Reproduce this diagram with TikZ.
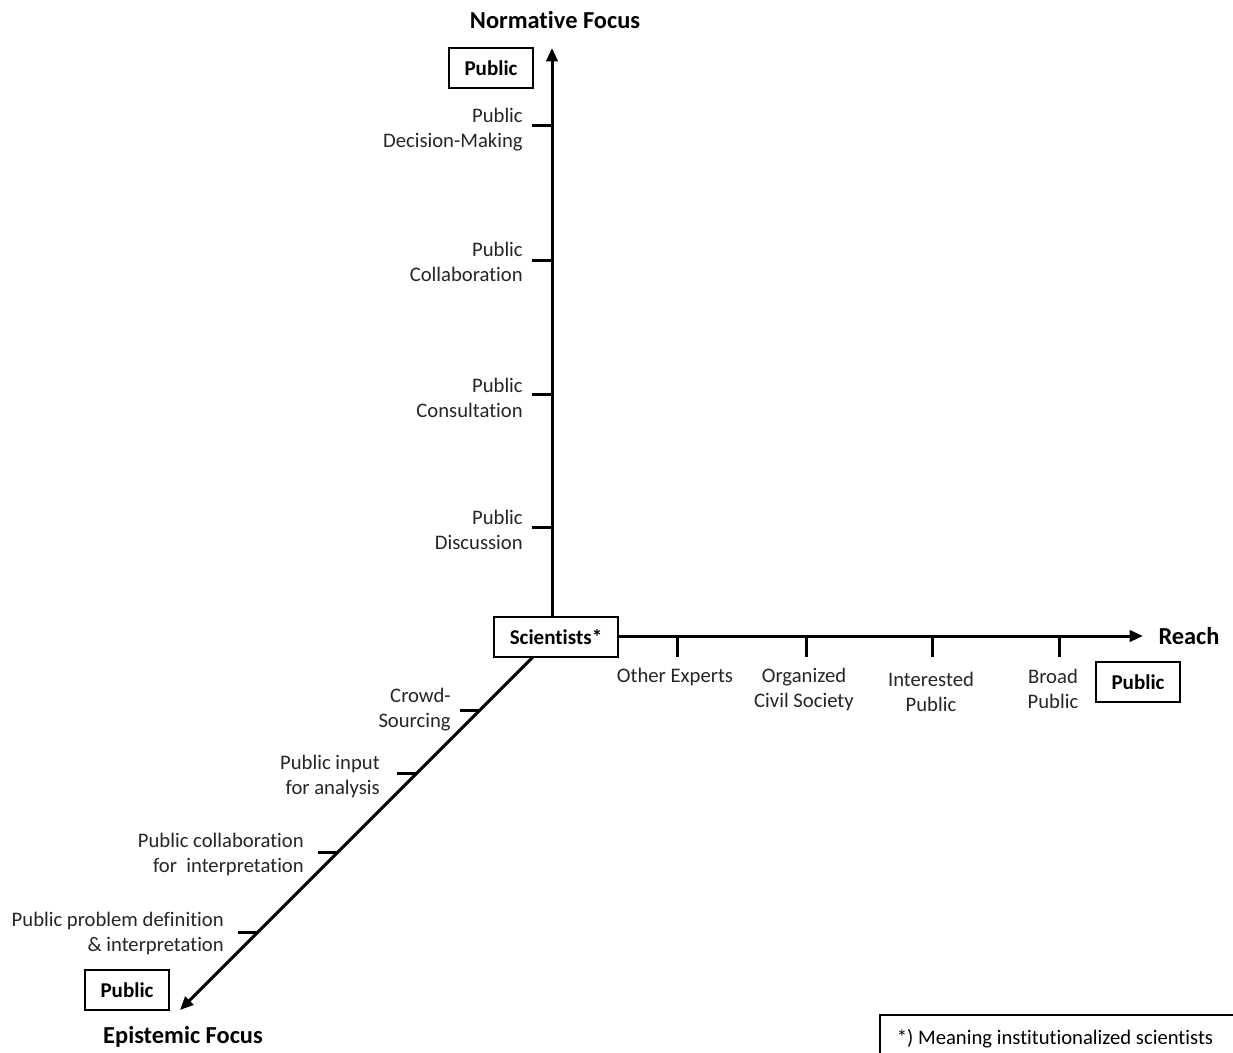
\documentclass[tikz,border=0pt]{standalone}
\usepackage{fontspec}
\setmainfont{Carlito}[RawFeature={-liga;-clig;-calt;-dlig}]
\usetikzlibrary{arrows.meta}
\begin{document}
\begin{tikzpicture}[x=0.75pt,y=-0.75pt,
  axis/.style={line width=2.25pt},
  axisarrow/.style={line width=2.25pt,-{Triangle[length=10pt,width=8.5pt]}},
  tick/.style={line width=2.25pt},
  lbl/.style={inner sep=0pt,text=black!85,font=\fontsize{15.5}{18.75}\selectfont},
  rlbl/.style={lbl,align=right,anchor=east},
  clbl/.style={lbl,align=center},
  title/.style={inner sep=0pt,font=\fontsize{18.3}{22}\selectfont\bfseries},
  pbox/.style={draw,line width=1.3pt,minimum width=63pt,minimum height=30pt,inner sep=0pt,font=\fontsize{15.8}{19}\selectfont\bfseries}
]
\useasboundingbox (0,0) rectangle (1233,1053);
\fill[white] (0,0) rectangle (1233,1053);

% boxes
\node[pbox] (sci) at (556,637) [minimum width=93pt] {Scientists*};
\node[pbox] (ptop) at (491,68) {Public};
\node[pbox] (pright) at (1138,682) {Public};
\node[pbox] (pleft) at (127,990) {Public};

% titles
\node[title] (nf) at (555,20) {Normative Focus};
\node[title] (reach) at (1189,636) {Reach};
\node[title] (ef) at (183,1037) {Epistemic Focus};

% axis coordinates
\coordinate (vtop) at (552,48);
\coordinate (hend) at (1143,636);
\coordinate (dstart) at (533,657);
\coordinate (dend) at (180,1010);

\draw[axisarrow] (vtop |- sci.north) -- (vtop);
\draw[axisarrow] (sci.east |- hend) -- (hend);
\draw[axisarrow] (dstart) -- (dend);

% vertical ticks
\foreach \y/\name in {125/v1,260/v2,394/v3,527/v4}{
  \coordinate (\name) at (552,\y);
  \draw[tick] (\name) -- ++(-20,0);
}
\node[rlbl] (l1) at (523,130) {Public\\Decision-Making};
\node[rlbl] (l2) at (523,262) {Public\\Collaboration};
\node[rlbl] (l3) at (523,398) {Public\\Consultation};
\node[rlbl] (l4) at (523,530) {Public\\Discussion};

% horizontal ticks
\foreach \x/\name in {677/h1,806/h2,932/h3,1059/h4}{
  \coordinate (\name) at (\x,636);
  \draw[tick] (\name) -- ++(0,21);
}
\node[clbl] (m1) at (675,677) {Other Experts};
\node[clbl] (m2) at (804,689) {Organized\\Civil Society};
\node[clbl] (m3) at (931,692) {Interested\\Public};
\node[clbl] (m4) at (1053,689) {Broad\\Public};

% diagonal ticks
\foreach \y/\name in {710/d1,773/d2,852/d3,932/d4}{
  \coordinate (\name) at ({533-(\y-657)},\y);
  \draw[tick] (\name) -- ++(-20,0);
}
\node[rlbl] (e1) at (451,710) {Crowd-\\Sourcing};
\node[rlbl] (e2) at (380,776) {Public input\\for analysis};
\node[rlbl] (e3) at (304,854) {Public collaboration\\for~ interpretation};
\node[rlbl] (e4) at (224,933) {Public problem definition\\\& interpretation};

% footnote
\draw[line width=1.3pt] (880,1070) -- (880,1015) -- (1245,1015);
\node[lbl,text=black] (fn) at (1055,1039) {*) Meaning institutionalized scientists};
\end{tikzpicture}
\end{document}
